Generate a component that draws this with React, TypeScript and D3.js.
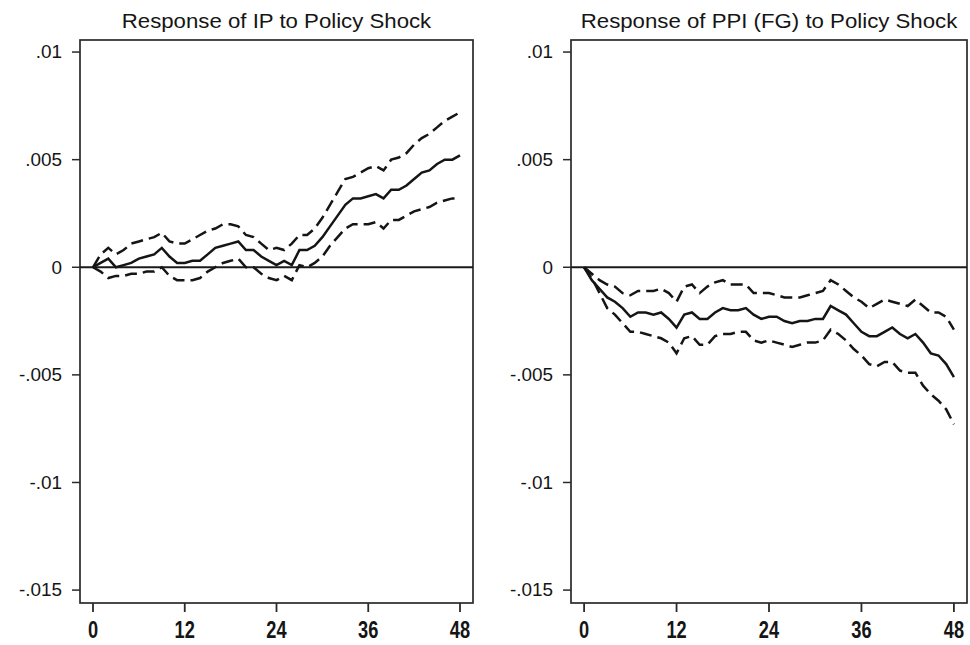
import React from "react";
import * as d3 from "d3";

// ---- data ----
const months = [0,1,2,3,4,5,6,7,8,9,10,11,12,13,14,15,16,17,18,19,20,21,22,23,24,25,26,27,28,29,30,31,32,33,34,35,36,37,38,39,40,41,42,43,44,45,46,47,48];

const xTicks = [0, 12, 24, 36, 48];
const yTicks = [0.01, 0.005, 0, -0.005, -0.01, -0.015];
const yTickLabels = [".01", ".005", "0", "-.005", "-.01", "-.015"];
const titles = ["Response of IP to Policy Shock", "Response of PPI (FG) to Policy Shock"];

const ipIrf = [0,0.0002,0.0004,0.0000,0.0001,0.0002,0.0004,0.0005,0.0006,0.0009,0.0005,0.0002,0.0002,0.0003,0.0003,0.0006,0.0009,0.0010,0.0011,0.0012,0.0008,0.0008,0.0005,0.0003,0.0001,0.0003,0.0001,0.0008,0.0008,0.0010,0.0014,0.0019,0.0024,0.0029,0.0032,0.0032,0.0033,0.0034,0.0032,0.0036,0.0036,0.0038,0.0041,0.0044,0.0045,0.0048,0.0050,0.0050,0.0052];
const ipUpper = [0,0.0006,0.0009,0.0006,0.0008,0.0011,0.0012,0.0013,0.0014,0.0016,0.0012,0.0011,0.0011,0.0013,0.0015,0.0017,0.0018,0.0020,0.0020,0.0019,0.0015,0.0014,0.0011,0.0008,0.0009,0.0008,0.0011,0.0015,0.0015,0.0018,0.0023,0.0029,0.0035,0.0041,0.0042,0.0044,0.0046,0.0047,0.0045,0.0050,0.0051,0.0053,0.0057,0.0060,0.0062,0.0065,0.0068,0.0070,0.0072];
const ipLower = [0,-0.0002,-0.0005,-0.0004,-0.0004,-0.0003,-0.0003,-0.0002,-0.0002,0.0000,-0.0004,-0.0006,-0.0006,-0.0006,-0.0005,-0.0002,0.0000,0.0002,0.0003,0.0004,0.0000,0.0000,-0.0003,-0.0005,-0.0006,-0.0004,-0.0006,0.0001,0.0000,0.0002,0.0005,0.0010,0.0014,0.0018,0.0020,0.0020,0.0020,0.0021,0.0018,0.0022,0.0022,0.0024,0.0026,0.0027,0.0028,0.0030,0.0031,0.0032,0.0032];

const ppiIrf = [0,-0.0006,-0.0010,-0.0014,-0.0016,-0.0019,-0.0023,-0.0021,-0.0021,-0.0022,-0.0021,-0.0024,-0.0028,-0.0022,-0.0021,-0.0024,-0.0024,-0.0021,-0.0019,-0.0020,-0.0020,-0.0019,-0.0022,-0.0024,-0.0023,-0.0023,-0.0025,-0.0026,-0.0025,-0.0025,-0.0024,-0.0024,-0.0018,-0.0020,-0.0022,-0.0026,-0.0030,-0.0032,-0.0032,-0.0030,-0.0028,-0.0031,-0.0033,-0.0031,-0.0035,-0.0040,-0.0041,-0.0045,-0.0051];
const ppiUpper = [0,-0.0003,-0.0006,-0.0008,-0.0009,-0.0012,-0.0013,-0.0011,-0.0011,-0.0011,-0.0010,-0.0012,-0.0016,-0.0009,-0.0008,-0.0012,-0.0009,-0.0007,-0.0006,-0.0008,-0.0008,-0.0008,-0.0012,-0.0012,-0.0012,-0.0013,-0.0014,-0.0014,-0.0014,-0.0013,-0.0012,-0.0011,-0.0006,-0.0008,-0.0011,-0.0014,-0.0016,-0.0019,-0.0017,-0.0015,-0.0016,-0.0017,-0.0018,-0.0015,-0.0018,-0.0021,-0.0021,-0.0023,-0.0029];
const ppiLower = [0,-0.0005,-0.0012,-0.0019,-0.0022,-0.0026,-0.0030,-0.0030,-0.0031,-0.0032,-0.0033,-0.0035,-0.0040,-0.0033,-0.0032,-0.0036,-0.0036,-0.0032,-0.0031,-0.0031,-0.0030,-0.0030,-0.0034,-0.0035,-0.0034,-0.0035,-0.0036,-0.0037,-0.0036,-0.0035,-0.0035,-0.0034,-0.0029,-0.0031,-0.0034,-0.0038,-0.0041,-0.0045,-0.0046,-0.0044,-0.0044,-0.0048,-0.0049,-0.0049,-0.0055,-0.0059,-0.0062,-0.0066,-0.0073];

// ---- layout ----
const W = 970;
const H = 645;
const frameTop = 40;
const frameBottom = 603;
const panels = [
  { title: titles[0], irf: ipIrf, upper: ipUpper, lower: ipLower, left: 80, width: 393 },
  { title: titles[1], irf: ppiIrf, upper: ppiUpper, lower: ppiLower, left: 571, width: 396 },
];

const FONT = "'Liberation Sans', Arial, Helvetica, sans-serif";
const INK = "#151515";

function Panel({ p }: { p: (typeof panels)[number] }) {
  const x = d3.scaleLinear().domain([-1.7, 49.7]).range([p.left, p.left + p.width]);
  const y = d3.scaleLinear().domain([-0.0156, 0.01056]).range([frameBottom, frameTop]);
  const line = d3
    .line<number>()
    .x((_, i) => x(months[i]))
    .y((d) => y(d));
  const cx = p.left + p.width / 2;
  return (
    <g>
      <text
        transform={`translate(${cx},27.5) scale(1.14,1)`}
        textAnchor="middle"
        fontFamily={FONT}
        fontSize={19.5}
        fill={INK}
      >
        {p.title}
      </text>
      <rect
        x={p.left}
        y={frameTop}
        width={p.width}
        height={frameBottom - frameTop}
        fill="none"
        stroke="#2a2a2a"
        strokeWidth={1.7}
      />
      <line x1={p.left} x2={p.left + p.width} y1={y(0)} y2={y(0)} stroke="#1a1a1a" strokeWidth={1.8} />
      {yTicks.map((t, i) => (
        <g key={"y" + i}>
          <line x1={p.left - 8} x2={p.left} y1={y(t)} y2={y(t)} stroke="#2a2a2a" strokeWidth={1.5} />
          <text
            transform={`translate(${p.left - 18},${y(t)}) scale(1.08,1)`}
            dy="0.36em"
            textAnchor="end"
            fontFamily={FONT}
            fontSize={17.5}
            fill={INK}
          >
            {yTickLabels[i]}
          </text>
        </g>
      ))}
      {xTicks.map((t) => (
        <g key={"x" + t}>
          <line x1={x(t)} x2={x(t)} y1={frameBottom} y2={frameBottom + 9} stroke="#2a2a2a" strokeWidth={1.8} />
          <text
            transform={`translate(${x(t)},${638}) scale(0.76,1)`}
            textAnchor="middle"
            fontFamily={FONT}
            fontWeight="bold"
            fontSize={24}
            fill={INK}
          >
            {t}
          </text>
        </g>
      ))}
      <path d={line(p.upper) || ""} fill="none" stroke={INK} strokeWidth={2.5} strokeDasharray="12,6" />
      <path d={line(p.lower) || ""} fill="none" stroke={INK} strokeWidth={2.5} strokeDasharray="12,6" />
      <path d={line(p.irf) || ""} fill="none" stroke={INK} strokeWidth={2.5} />
    </g>
  );
}

export default function App() {
  return (
    <svg
      width={W}
      height={H}
      viewBox={`0 0 ${W} ${H}`}
      style={{ position: "absolute", left: 0, top: 0, background: "#fff" }}
    >
      <rect x={0} y={0} width={W} height={H} fill="#fff" />
      {panels.map((p, i) => (
        <Panel key={i} p={p} />
      ))}
    </svg>
  );
}
